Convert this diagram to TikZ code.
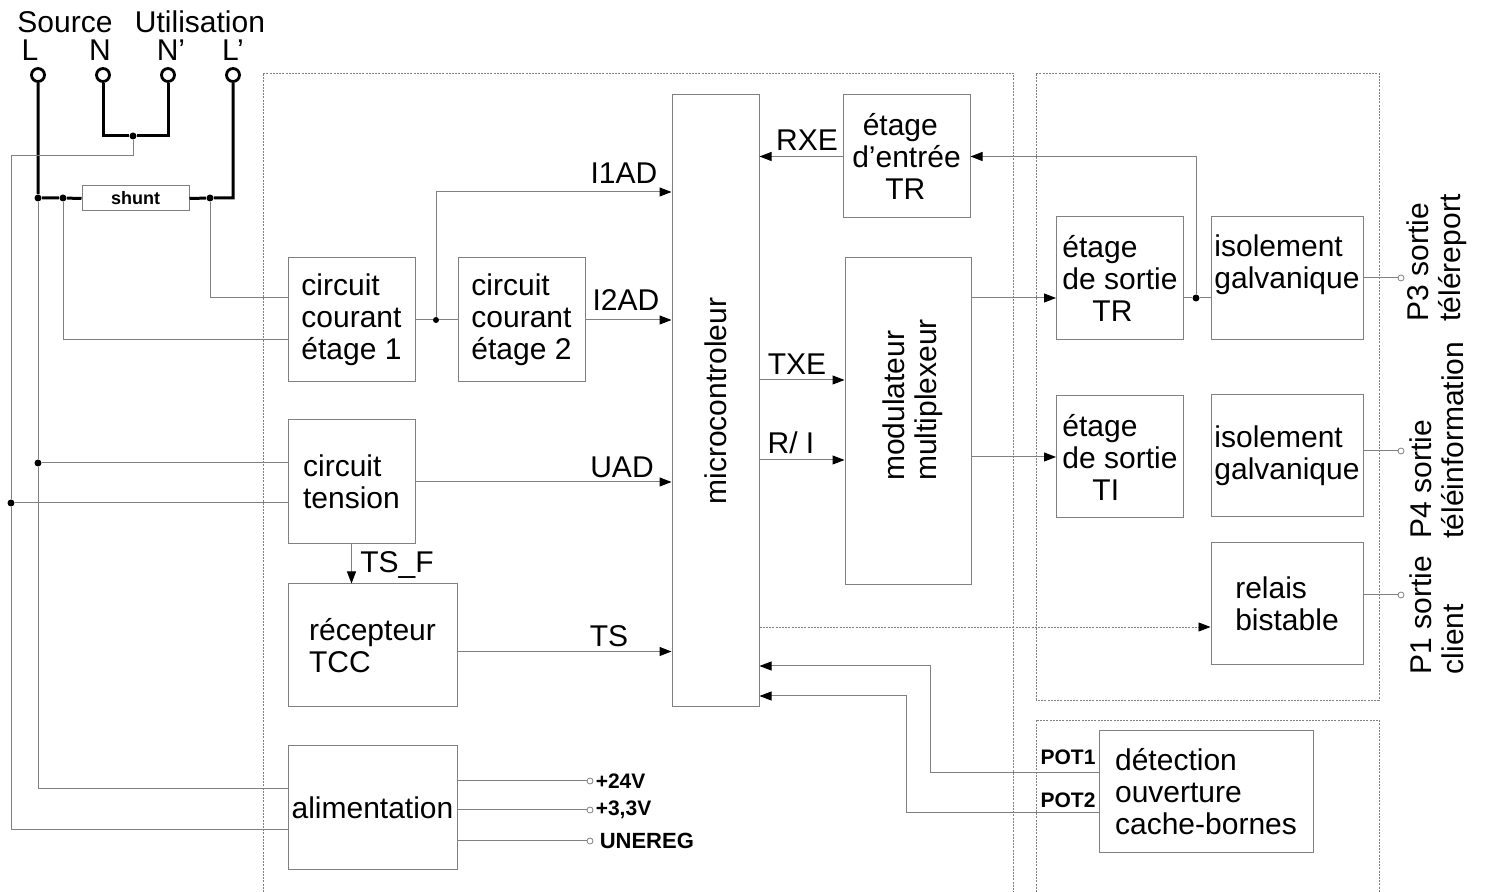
\documentclass[tikz,border=0pt]{standalone}
\usepackage{fontspec}
\setmainfont{Liberation Sans}
\usetikzlibrary{arrows.meta,positioning,calc}

\begin{document}
\begin{tikzpicture}[
    x=0.5pt, y=-0.5pt,
    font=\fontsize{15}{16}\selectfont,
    box/.style={
        draw=gray,
        line width=0.5pt,
        align=left,
        inner sep=1pt,
        minimum width=63.5pt,
        minimum height=61.5pt
    },
    line/.style={draw=gray, line width=0.5pt},
    arrow/.style={line, -{Triangle[length=6pt,width=4.5pt,color=black]}},
    wire/.style={draw=black, line width=1.5pt},
    zone/.style={draw=gray, line width=0.4pt, dash pattern=on 1pt off 0.6pt},
    term/.style={circle, draw=black, fill=white, line width=1.4pt, minimum size=6.5pt, inner sep=0pt},
    plug/.style={circle, draw=gray, fill=white, line width=0.4pt, minimum size=3pt, inner sep=0pt},
    dot/.style={circle, fill=black, minimum size=3.5pt, inner sep=0pt},
    lbl/.style={inner sep=1pt},
    tag/.style={font=\bfseries\fontsize{10.5}{12}\selectfont, inner sep=1pt}
]
\useasboundingbox (0,0) rectangle (1485,892);

% --- Zones ---
\draw[zone] (263,892) |- (1013,73) -- (1013,892);
\draw[zone] (1036,700) rectangle (1379,73);
\draw[zone] (1036,892) |- (1379,720) -- (1379,892);

% --- Mains terminals ---
\node[term] (tL)  at (38,75)  {};
\node[term] (tN)  at (103,75) {};
\node[term] (tNp) at (168,75) {};
\node[term] (tLp) at (233,75) {};
\node (src) at (65,22)  {Source};
\node (use) at (200,22) {Utilisation};
\node (nL)  at (30,50)  {L};
\node (nN)  at (100,50) {N};
\node (nNp) at (171,50) {N’};
\node (nLp) at (233,50) {L’};

\node[box, align=center, minimum width=53.5pt, minimum height=12.5pt,
      font=\bfseries\fontsize{9}{10}\selectfont] (shunt) at (135.5,198.5) {shunt};

\node[dot] (jN)  at (133,136) {};
\node[dot] (jL)  at (38,198)  {};
\node[dot] (jS1) at (63,198)  {};
\node[dot] (jS2) at (210,198) {};
\node[dot] (jV1) at (38,463)  {};
\node[dot] (jV2) at (11,503)  {};

% --- Measurement blocks ---
\node[box, minimum height=62pt] (cc1) at (351.5,320) {circuit\\courant\\étage 1};
\node[box, minimum height=62pt] (cc2) at (521.5,320) {circuit\\courant\\étage 2};
\node[dot, minimum size=3pt] (jC) at (436,320) {};
\node[box, minimum height=62pt] (ctens) at (351.5,482) {circuit\\tension};
\node[box, minimum width=84.5pt] (recep) at (372.5,645.5) {récepteur\\TCC};
\node[box, align=center, minimum width=84.5pt, minimum height=62pt] (alim) at (372.5,808) {alimentation};

% --- Core ---
\node[box, align=center, rotate=90, minimum width=306pt, minimum height=43.5pt] (micro) at (715.5,401) {microcontroleur};
\node[box] (entree) at (906.5,156.5) {\hspace*{0.35em}étage\\d’entrée\\\hspace*{1.1em}TR};
\node[box, rotate=90, minimum width=163.5pt, minimum height=63pt] (modul) at (908,421.5) {};
\node[rotate=90, align=left] (modtxt) at (913,400) {modulateur\\multiplexeur};

% --- Outputs ---
\node[box] (sortTR) at (1120,278.5) {étage\\de sortie\\\hspace*{1em}TR};
\node[box, minimum width=76pt] (isoTR) at (1287,278.5) {};
\node[align=left] (isoTRtxt) at (1287,265) {isolement\\galvanique};
\node[box, minimum height=61pt] (sortTI) at (1120,457) {étage\\de sortie\\\hspace*{1em}TI};
\node[box, minimum width=76pt, minimum height=61pt] (isoTI) at (1287,456) {isolement\\galvanique};
\node[box, minimum width=76pt, minimum height=61pt] (relais) at (1287,604) {relais\\bistable};
\node[box, minimum width=107pt, minimum height=61pt] (detect) at (1206,792) {détection\\ouverture\\cache-bornes};
\node[dot] (jTR) at (1196,298) {};

\node[plug] (p3)  at (1401,278) {};
\node[plug] (p4)  at (1401,451) {};
\node[plug] (p1)  at (1401,595) {};
\node[plug] (o24) at (590,781) {};
\node[plug] (o33) at (590,810) {};
\node[plug] (oun) at (590,841) {};

\node[rotate=90, align=left] (p3lbl) at (1437,258) {P3 sortie\\téléreport};
\node[rotate=90, align=left] (p4lbl) at (1437,440) {P4 sortie\\téléinformation};
\node[rotate=90, align=left] (p1lbl) at (1437,615) {P1 sortie\\client};

\node[tag, anchor=west] (t24) at (o24.east) {+24V};
\node[tag, anchor=west] (t33) at (o33.east) {+3,3V};
\node[tag, anchor=west, font=\bfseries\fontsize{11}{12}\selectfont] (tun) at ([xshift=2pt]oun.east) {UNEREG};
\node[tag] (pot1) at (1068,757) {POT1};
\node[tag] (pot2) at (1068,800) {POT2};

% --- Mains wiring ---
\draw[wire] (tL) -- (jL) -- (jS1) -- (shunt.west);
\draw[wire] (shunt.east) -- (jS2) -| (tLp);
\draw[wire] (tN) |- (jN) -| (tNp);

\draw[line] (jN) -- ++(0,20) -| (jV2);
\draw[line] (jV2) |- ([yshift=-11pt]alim.west);
\draw[line] (jV2) -- (jV2 -| ctens.west);
\draw[line] (jL) -- (jV1);
\draw[line] (jV1) |- ([yshift=9.5pt]alim.west);
\draw[line] (jV1) -- (jV1 -| ctens.west);
\draw[line] (jS1) |- ([yshift=-10pt]cc1.west);
\draw[line] (jS2) |- ([yshift=11pt]cc1.west);

% --- Signals ---
\draw[line] (cc1) -- (jC) -- (cc2);
\draw[arrow] (jC) |- (micro.north |- 0,192);
\draw[arrow] (cc2) -- (cc2 -| micro.north);
\draw[arrow] (ctens) -- (ctens -| micro.north);
\coordinate (ts) at ([yshift=-3pt]recep.east);
\draw[arrow] (ts) -- (ts -| micro.north);
\draw[arrow] (ctens) -- (ctens |- recep.north);
\draw[arrow] (entree) -- (entree -| micro.south);
\draw[arrow] (micro.south |- 0,380) -- (modul.north |- 0,380);
\draw[arrow] (micro.south |- 0,460) -- (modul.north |- 0,460);
\draw[arrow] (modul.south |- jTR) -- (sortTR.west |- jTR);
\draw[line] (sortTR.east |- jTR) -- (jTR) -- (isoTR.west |- jTR);
\draw[arrow] (jTR) |- (entree);
\draw[arrow] (modul.south |- sortTI) -- (sortTI);
\draw[arrow, zone] (micro.south |- 0,627) -- (relais.west |- 0,627);
\draw[arrow] ([yshift=9.5pt]detect.west) -| (930,666) -- (micro.south |- 0,666);
\draw[arrow] ([yshift=-10.5pt]detect.west) -| (906,696) -- (micro.south |- 0,696);

\draw[line] (alim.east |- o24) -- (o24);
\draw[line] (alim.east |- o33) -- (o33);
\draw[line] (alim.east |- oun) -- (oun);
\draw[line] (isoTR.east |- p3) -- (p3);
\draw[line] (isoTI.east |- p4) -- (p4);
\draw[line] (relais.east |- p1) -- (p1);

% --- Signal names ---
\node[lbl] (l-i1ad) at (624,173) {I1AD};
\node[lbl] (l-i2ad) at (626,300) {I2AD};
\node[lbl] (l-uad)  at (622,467) {UAD};
\node[lbl] (l-ts)   at (609,636) {TS};
\node[lbl] (l-tsf)  at (397,565) {TS\_F};
\node[lbl] (l-rxe)  at (807,140) {RXE};
\node[lbl] (l-txe)  at (797,364) {TXE};
\node[lbl] (l-ri)   at (791,443) {R/ I};

\end{tikzpicture}
\end{document}
